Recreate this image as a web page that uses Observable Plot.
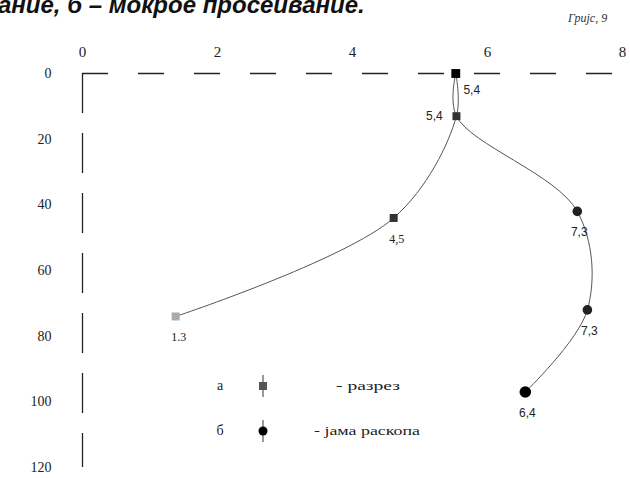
<!DOCTYPE html>
<html><head><meta charset="utf-8">
<script src="https://cdn.jsdelivr.net/npm/d3@7"></script>
<script src="https://cdn.jsdelivr.net/npm/@observablehq/plot@0.6"></script>
<style>
body{margin:0;background:#fff;}
#wrap{position:relative;width:630px;height:478px;overflow:hidden;}
#title{position:absolute;left:-2px;top:-9px;font:italic bold 24px "Liberation Sans",Arial,sans-serif;color:#111;white-space:nowrap;}
#fig{position:absolute;left:568px;top:11px;font:italic 12px "Liberation Serif",serif;color:#333;white-space:nowrap;}
#legend{position:absolute;left:0;top:0;}
</style></head>
<body><div id="wrap"><div id="chart"></div>
<div id="title">ание, б – мокрое просеивание.</div>
<div id="fig">Гријс, 9</div>
</div>
<script>
// x ticks and depth ticks
const xTicks = [0, 2, 4, 6, 8];
const depthTicks = [0, 20, 40, 60, 80, 100, 120];
// series а – разрез (squares)
const aX = [5.53, 5.54, 4.61, 1.38];
const aDepth = [0, 13, 44, 74];
const aLabels = ["5,4", "5,4", "4,5", "1.3"];
// series б – јама раскопа (circles)
const bX = [5.53, 5.54, 7.33, 7.48, 6.56];
const bDepth = [0, 13, 42, 72, 97];
const bLabels = ["", "", "7,3", "7,3", "6,4"];
// legend
const legendKeys = ["а", "б"];
const legendNames = ["- разрез", "- јама раскопа"];

const A = aX.map((x, i) => ({x, d: aDepth[i], label: aLabels[i], i}));
const B = bX.map((x, i) => ({x, d: bDepth[i], label: bLabels[i], i}));

const serif = "'Liberation Serif', 'Times New Roman', serif";
const sans = "'Liberation Sans', Arial, sans-serif";

const plot = Plot.plot({
  width: 630, height: 478,
  marginLeft: 82, marginRight: 8, marginTop: 73, marginBottom: 11,
  style: {background: "#fff", color: "#222"},
  x: {domain: [0, 8]},
  y: {domain: [0, 120], reverse: true},
  marks: [
    Plot.axisX({anchor: "top", ticks: xTicks, tickSize: 0, tickPadding: 17, label: null, fontSize: 15, fontFamily: serif, tickFormat: d => d}),
    Plot.axisY({anchor: "left", ticks: depthTicks, tickSize: 0, tickPadding: 31, label: null, fontSize: 14, fontFamily: serif, tickFormat: d => d}),
    Plot.ruleY([0], {stroke: "#222", strokeWidth: 1.5, strokeDasharray: "26,30"}),
    Plot.ruleX([0], {stroke: "#222", strokeWidth: 1.3, strokeDasharray: "40,20"}),
    Plot.line(A, {x: "x", y: "d", curve: "catmull-rom", stroke: "#555", strokeWidth: 1}),
    Plot.line(B, {x: "x", y: "d", curve: "catmull-rom", stroke: "#555", strokeWidth: 1}),
    Plot.dot(A.filter(p => p.i === 1 || p.i === 2), {x: "x", y: "d", symbol: "square", r: 4.5, fill: "#333"}),
    Plot.dot(A.filter(p => p.i === 3), {x: "x", y: "d", symbol: "square", r: 4.5, fill: "#aaa"}),
    Plot.dot(A.filter(p => p.i === 0), {x: "x", y: "d", symbol: "square", r: 5, fill: "#000"}),
    Plot.dot(B.filter(p => p.i === 2 || p.i === 3), {x: "x", y: "d", r: 4.8, fill: "#222"}),
    Plot.dot(B.filter(p => p.i === 4), {x: "x", y: "d", r: 5.8, fill: "#000"}),
    Plot.text(A.filter(p => p.i === 0), {x: "x", y: "d", text: "label", dx: 16, dy: 17, fontSize: 12, fontFamily: sans, fill: "#222"}),
    Plot.text(A.filter(p => p.i === 1), {x: "x", y: "d", text: "label", dx: -22, dy: 0, fontSize: 12, fontFamily: sans, fill: "#222"}),
    Plot.text(A.filter(p => p.i > 1), {x: "x", y: "d", text: "label", dx: 3, dy: 21, fontSize: 12, fontFamily: serif, fill: "#222"}),
    Plot.text(B.filter(p => p.i > 1), {x: "x", y: "d", text: "label", dx: 2, dy: 21, fontSize: 12, fontFamily: sans, fill: "#222"})
  ]
});
document.getElementById("chart").appendChild(plot);

// legend overlay
const lg = d3.select("#wrap").append("svg").attr("id", "legend").attr("width", 630).attr("height", 478);
const legendWidths = [64, 106];
legendKeys.forEach((k, i) => {
  const y = 386 + i * 45;
  const g = lg.append("g");
  g.append("text").attr("x", 220).attr("y", y + 4).attr("text-anchor", "middle").attr("font-family", serif).attr("font-size", 14).attr("fill", "#222").text(k);
  g.append("line").attr("x1", 263).attr("x2", 263).attr("y1", y - 11).attr("y2", y + 11).attr("stroke", "#555").attr("stroke-width", 1.2);
  if (i === 0) g.append("rect").attr("x", 259).attr("y", y - 4).attr("width", 8).attr("height", 8).attr("fill", "#555");
  else g.append("circle").attr("cx", 263).attr("cy", y).attr("r", 4.5).attr("fill", "#000");
  g.append("text").attr("x", i === 0 ? 336 : 314).attr("y", y + 4).attr("font-family", serif).attr("font-size", 13)
    .attr("textLength", legendWidths[i]).attr("lengthAdjust", "spacingAndGlyphs").attr("fill", "#222").text(legendNames[i]);
});
</script>
</body></html>
